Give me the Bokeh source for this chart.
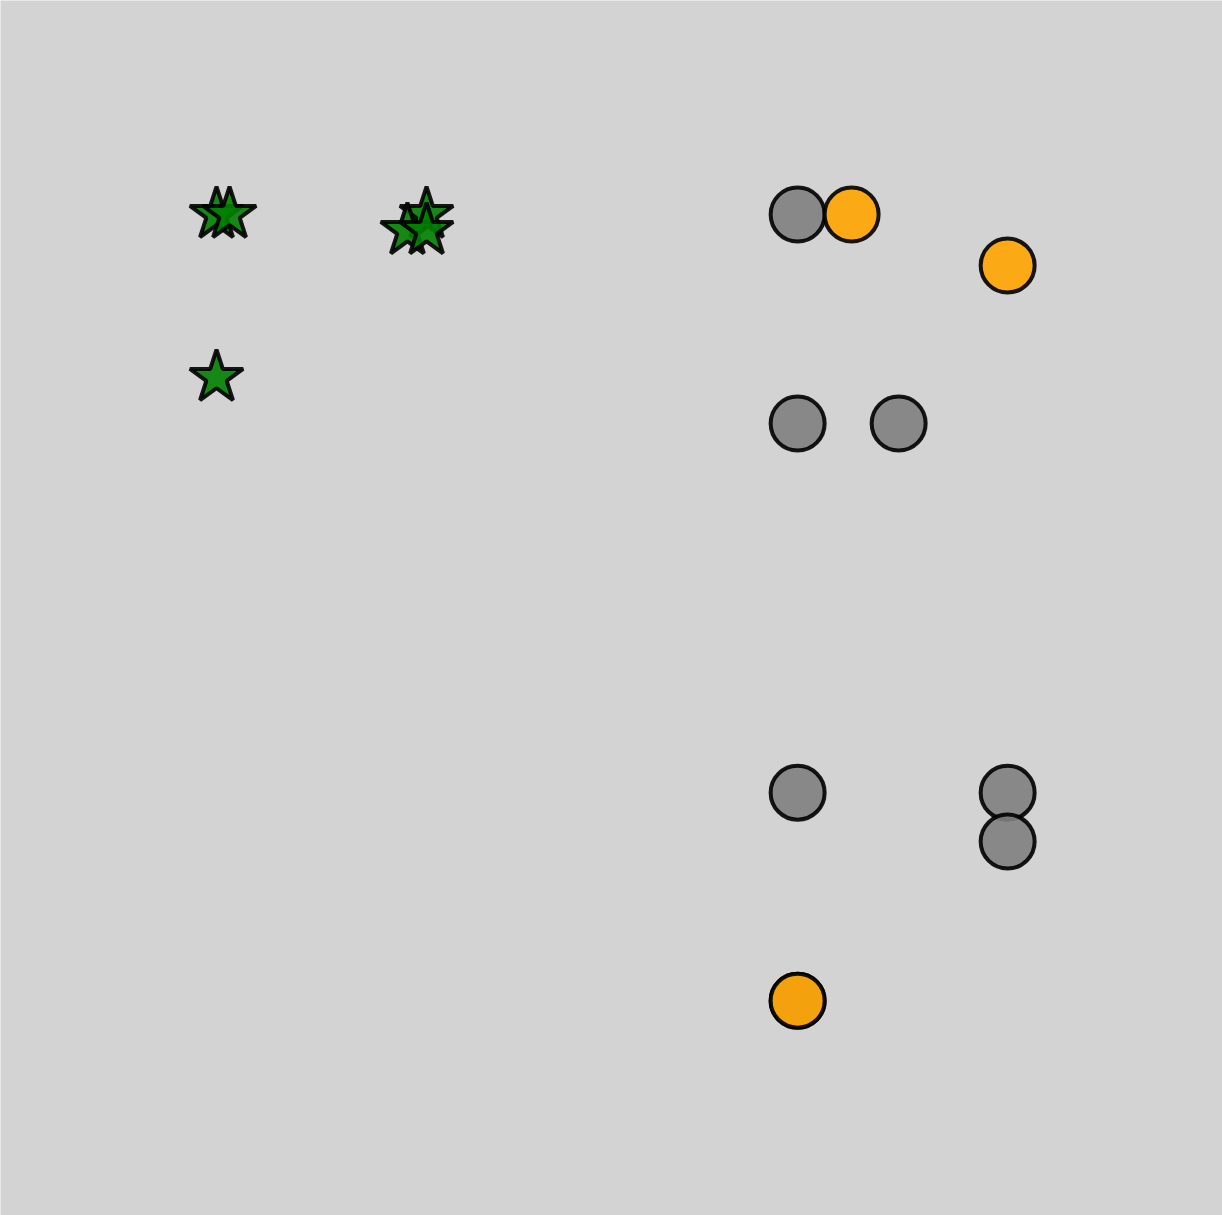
from bokeh.plotting import figure
from bokeh.models import Range1d
from bokeh.embed import file_html
from bokeh.resources import INLINE

# Stars (green)
star_x = [1.0, 1.062, 1.0, 2.0, 1.909, 2.0]
star_y = [5.0, 5.0, 4.22, 5.0, 4.923, 4.923]

# Circles (gray)
gray_x = [3.767, 3.767, 4.248, 3.767, 4.767, 4.767, 3.767]
gray_y = [5.0, 4.0, 4.0, 2.234, 2.234, 2.0, 1.239]

# Circles (orange)
orange_x = [4.024, 4.767, 3.767]
orange_y = [5.0, 4.756, 1.239]

p = figure(width=1222, height=1215, output_backend="svg", toolbar_location=None,
           x_range=Range1d(-0.0286, 5.790), y_range=Range1d(0.211, 6.024),
           min_border=0, background_fill_color="#d3d3d3", border_fill_color="#d3d3d3")
p.axis.visible = False
p.grid.visible = False
p.outline_line_color = None

p.scatter(star_x, star_y, marker="star", size=56, fill_color="green", line_color="black",
          line_width=4, alpha=0.9)
p.scatter(gray_x, gray_y, marker="circle", size=54, fill_color="gray", line_color="black",
          line_width=4, alpha=0.9)
p.scatter(orange_x, orange_y, marker="circle", size=54, fill_color="orange", line_color="black",
          line_width=4, alpha=0.9)

open("out.html", "w").write(file_html(p, INLINE))
